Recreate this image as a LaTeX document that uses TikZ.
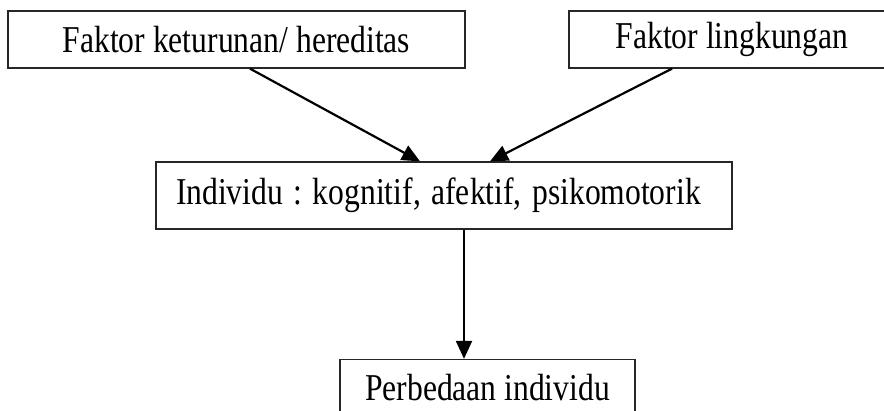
\documentclass[tikz,border=0pt]{standalone}
\usepackage{graphicx}
\usepackage{fontspec}
\setmainfont{Liberation Serif}
\frenchspacing
\usetikzlibrary{arrows.meta,positioning,calc}
\newcommand{\tall}[1]{\scalebox{1}[1.2]{#1}}

\begin{document}
\begin{tikzpicture}[x=1pt,y=-1pt,
  box/.style={draw=black!85,line width=1.3pt,minimum height=57pt,inner sep=0pt,font=\fontsize{31.6}{38}\selectfont},
  arr/.style={-{Triangle[length=18pt,width=16pt]},line width=2.2pt}]
\useasboundingbox (0,0) rectangle (884,410);
\node[box,minimum width=457pt] (keturunan) at (236.5,39.5) {\tall{Faktor keturunan/ hereditas}};
\node[box,minimum width=326pt] (lingkungan) at (732,39.5) {\tall{Faktor lingkungan}};
\node[box,text width=536pt,align=left,minimum height=67pt,inner xsep=20pt] (individu) at (444,195.5) {\tall{Individu : kognitif, afektif, psikomotorik}};
\node[box,minimum width=295pt] (perbedaan) at (487.5,388) {\tall{Perbedaan individu}};
% connectors
\draw[arr] ([xshift=13.5pt]keturunan.south) -- ([xshift=-24pt]individu.north);
\draw[arr] ([xshift=-60pt]lingkungan.south) -- ([xshift=46pt]individu.north);
\draw[arr] ([xshift=20pt]individu.south) -- ([xshift=20pt]individu.south |- perbedaan.north);
\end{tikzpicture}
\end{document}
